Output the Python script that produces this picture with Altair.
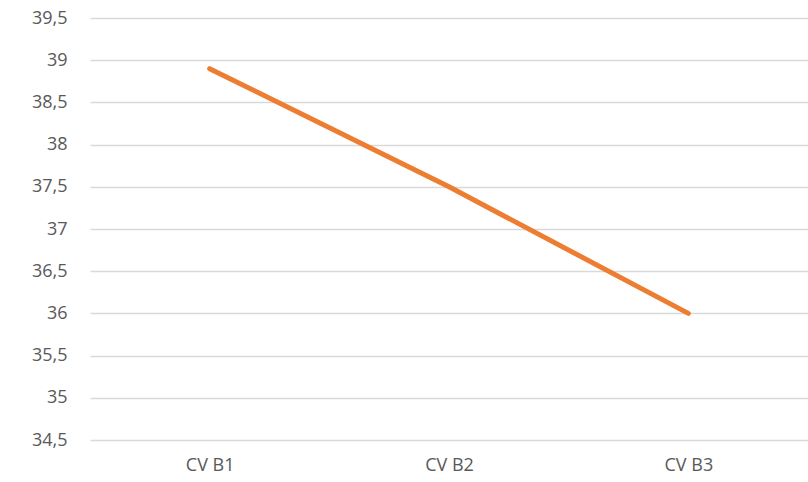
import altair as alt
import pandas as pd

categories = ["CV B1", "CV B2", "CV B3"]
values = [38.9, 37.5, 36.0]

df = pd.DataFrame({"cat": categories, "val": values})

font = "Open Sans"
label_color = "#595959"

chart = alt.Chart(df).mark_line(
    color="#ED7D31", strokeWidth=5, strokeCap="round"
).encode(
    x=alt.X(
        "cat:N",
        sort=categories,
        scale=alt.Scale(type="point", padding=0.5),
        axis=alt.Axis(
            title=None, labelAngle=0, ticks=False, domain=False, grid=False,
            labelFont=font, labelFontSize=18, labelColor=label_color, labelPadding=16,
        ),
    ),
    y=alt.Y(
        "val:Q",
        scale=alt.Scale(domain=[34.5, 39.5], nice=False, zero=False),
        axis=alt.Axis(
            title=None, values=[34.5 + 0.5 * i for i in range(11)],
            ticks=False, domain=False, gridColor="#D9D9D9", gridWidth=1.3,
            labelFont=font, labelFontSize=18, labelColor=label_color, labelPadding=23,
            labelExpr="replace(toString(datum.value), '.', ',')",
        ),
    ),
).properties(
    width=718, height=422,
    autosize=alt.AutoSizeParams(type="none"),
    padding={"left": 90, "top": 18, "right": 0, "bottom": 42},
).configure_view(stroke=None)

chart.save("out.html", embed_options={"renderer": "svg", "actions": False})
